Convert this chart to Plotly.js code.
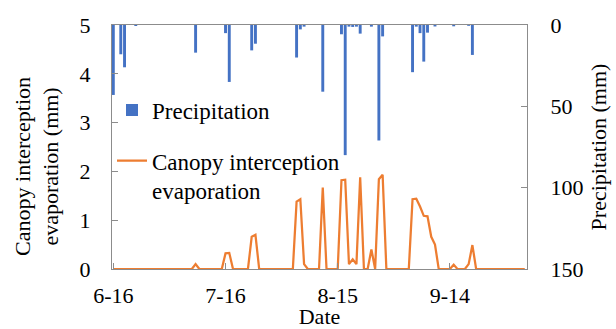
<!DOCTYPE html>
<html>
<head>
<meta charset="utf-8">
<script src="https://cdn.plot.ly/plotly-3.0.1.min.js"></script>
<style>html,body{margin:0;padding:0;background:#fff;}#chart{width:616px;height:329px;}</style>
</head>
<body>
<div id="chart"></div>
<script>
// Daily series, starting 6-16 (day 0) through 10-4 (day 110)
var startDate = [2021, 5, 16];
var precipitation = [
  43, 0, 18, 26, 0, 0, 0.6, 0, 0, 0,
  0, 0, 0, 0, 0, 0, 0, 0, 0, 0,
  0, 0, 17, 0, 0, 0, 0, 0, 0, 0,
  5, 35, 0, 0, 0, 0, 0, 15.6, 11.5, 0,
  0, 0, 0, 0, 0, 0, 0, 0, 0, 20,
  2.7, 1, 0, 0, 0, 0, 41, 0, 0, 0,
  0, 5.7, 80, 1, 1.2, 1, 5.3, 0, 0, 1,
  0, 71, 7, 0, 0, 0, 0, 0, 0, 0,
  29, 1, 5, 22.5, 4.7, 0, 0.9, 0, 0, 0,
  0, 0.8, 0, 0, 0, 0.5, 18.4, 0, 0, 0,
  0, 0, 0, 0, 0, 0, 0, 0, 0, 0,
  0
];
var evaporation = [
  0, 0, 0, 0, 0, 0, 0, 0, 0, 0,
  0, 0, 0, 0, 0, 0, 0, 0, 0, 0,
  0, 0, 0.1, 0, 0, 0, 0, 0, 0, 0,
  0.32, 0.33, 0, 0, 0, 0, 0, 0.66, 0.70, 0,
  0, 0, 0, 0, 0, 0, 0, 0, 0, 1.38,
  1.43, 0.1, 0, 0, 0, 0, 1.67, 0, 0, 0,
  0, 1.82, 1.83, 0.1, 0.2, 0.1, 1.88, 0, 0, 0.40,
  0, 1.84, 1.93, 0, 0, 0, 0, 0, 0, 0,
  1.43, 1.44, 1.28, 1.09, 1.08, 0.66, 0.50, 0, 0, 0,
  0, 0.09, 0, 0, 0, 0.1, 0.49, 0, 0, 0,
  0, 0, 0, 0, 0, 0, 0, 0, 0, 0,
  0
];
var tickDates = ['2021-06-16', '2021-07-16', '2021-08-15', '2021-09-14'];
var tickLabels = ['6-16', '7-16', '8-15', '9-14'];

var dates = precipitation.map(function (_, i) {
  var d = new Date(Date.UTC(startDate[0], startDate[1], startDate[2] + i));
  return d.toISOString().slice(0, 10);
});

var DAY = 86400000;
var FONT = 'Liberation Serif, Times New Roman, serif';
var AXC = '#8c8c8c';

var traces = [
  {
    type: 'bar', x: dates, y: precipitation, yaxis: 'y2', name: 'Precipitation',
    width: 0.78 * DAY, marker: {color: '#4472C4'}, legend: 'legend'
  },
  {
    type: 'scatter', mode: 'lines', x: dates, y: evaporation, yaxis: 'y',
    name: 'Canopy interception<br>evaporation',
    line: {color: '#ED7D31', width: 2.25}, legend: 'legend2'
  }
];

var layout = {
  width: 616, height: 329,
  margin: {l: 112, r: 89, t: 25, b: 60, pad: 0},
  paper_bgcolor: '#fff', plot_bgcolor: '#fff',
  font: {family: FONT, size: 22, color: '#000'},
  showlegend: true,
  xaxis: {
    type: 'date',
    range: ['2021-06-15 15:36', '2021-10-04 14:24'],
    tickvals: tickDates, ticktext: tickLabels,
    ticks: 'inside', ticklen: 6, tickcolor: AXC, tickwidth: 1,
    showline: true, linecolor: AXC, linewidth: 1, mirror: true,
    showgrid: false, zeroline: false,
    ticklabelstandoff: 7,
    title: {text: 'Date', font: {family: FONT, size: 22}, standoff: 10}
  },
  yaxis: {
    range: [0, 5], tickvals: [0, 1, 2, 3, 4, 5],
    ticks: 'inside', ticklen: 6, tickcolor: AXC,
    showline: true, linecolor: AXC, linewidth: 1,
    showgrid: false, zeroline: false,
    ticklabelstandoff: 16
  },
  yaxis2: {
    overlaying: 'y', side: 'right',
    range: [150, 0], tickvals: [0, 50, 100, 150],
    ticks: 'inside', ticklen: 6, tickcolor: AXC,
    showline: true, linecolor: AXC, linewidth: 1,
    showgrid: false, zeroline: false,
    ticklabelstandoff: 18,
    title: {text: 'Precipitation (mm)', font: {family: FONT, size: 22}, standoff: 8}
  },
  legend: {
    x: 0, xanchor: 'left', y: 0.74, yanchor: 'top',
    bgcolor: 'rgba(0,0,0,0)', font: {family: FONT, size: 23},
    itemwidth: 30
  },
  legend2: {
    x: 0, xanchor: 'left', y: 0.532, yanchor: 'top', valign: 'top',
    bgcolor: 'rgba(0,0,0,0)', font: {family: FONT, size: 23},
    itemwidth: 30
  },
  annotations: [{
    text: 'Canopy interception<br>evaporation (mm)',
    textangle: -90, showarrow: false,
    xref: 'paper', yref: 'paper', x: -0.181, y: 0.422,
    xanchor: 'center', yanchor: 'middle',
    font: {family: FONT, size: 22, color: '#000'}
  }]
};

Plotly.newPlot('chart', traces, layout, {displayModeBar: false, staticPlot: true});
</script>
</body>
</html>
